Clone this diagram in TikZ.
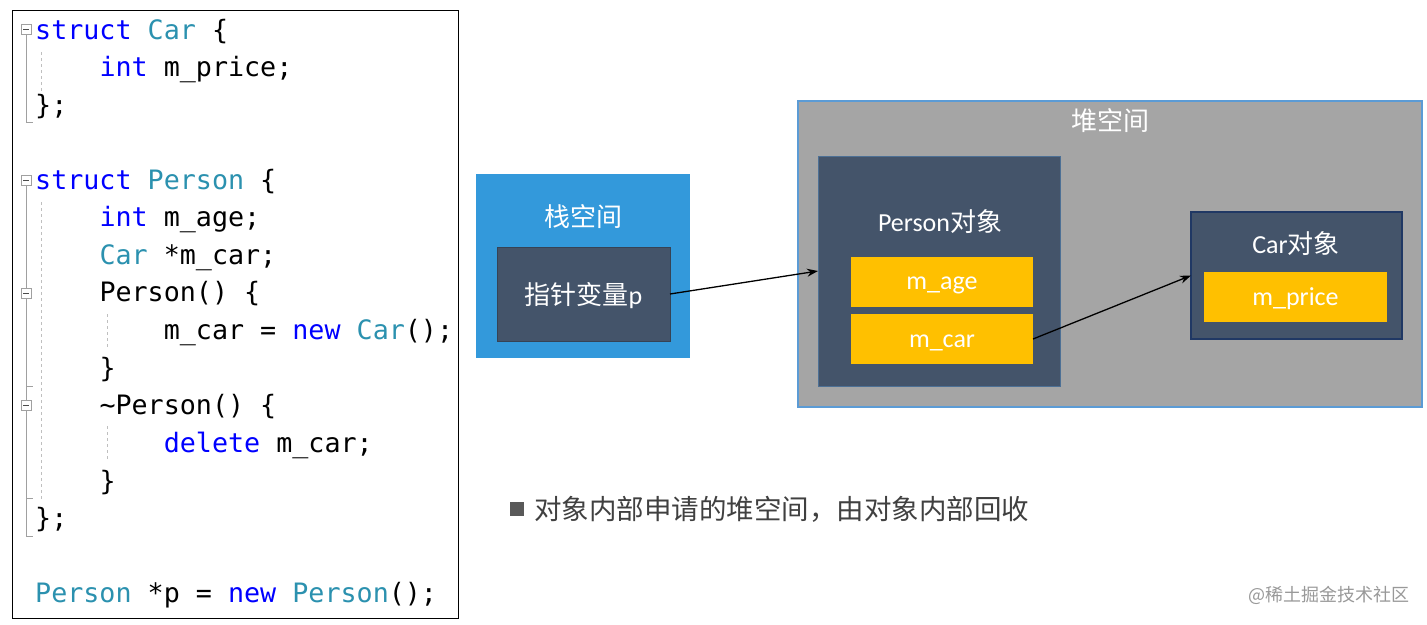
\documentclass[tikz,border=0pt]{standalone}
\usepackage{fontspec}
\usetikzlibrary{arrows.meta}
\setmonofont{DejaVu Sans Mono}
\newfontfamily\cjk{Noto Sans CJK SC}
\newfontfamily\lat{Carlito}
\definecolor{kwblue}{HTML}{0000FF}
\definecolor{tyteal}{HTML}{2B91AF}
\definecolor{stackblue}{RGB}{51,153,219}
\definecolor{darkslate}{HTML}{44546A}
\definecolor{goldy}{HTML}{FFC000}
\definecolor{heapgray}{HTML}{A5A5A5}
\definecolor{heapborder}{HTML}{5B9BD5}
\definecolor{carborder}{HTML}{203864}
\definecolor{foldgray}{HTML}{A0A0A0}
\newcommand\ckw[1]{\textcolor{kwblue}{#1}}
\newcommand\cty[1]{\textcolor{tyteal}{#1}}
\tikzset{
  codeline/.style={anchor=base west, inner sep=0pt, font=\ttfamily\fontsize{26.7}{30}\selectfont},
  box/.style={anchor=north west, inner sep=0pt, outer sep=0pt},
  wlabel/.style={text=white, inner sep=0pt, font=\fontsize{26}{30}\selectfont},
  fold/.style={draw=foldgray, fill=white, line width=0.8pt, minimum width=10pt, minimum height=10pt, inner sep=0pt},
  guide/.style={draw=black!25, dash pattern=on 3pt off 3pt, line width=0.8pt},
  arr/.style={-{Stealth[length=11pt,width=8pt]}, line width=1.3pt, black},
}
\begin{document}
\begin{tikzpicture}[x=1pt,y=-1pt]
\useasboundingbox (0,0) rectangle (1427,624);
\fill[white] (0,0) rectangle (1427,624);
% code panel
\node[box, draw=black, line width=1pt, minimum width=446pt, minimum height=608pt] (codebox) at (12,10) {};
% fold lines
\draw[foldgray, line width=0.8pt] (26,30) -- (26,122) -- (33,122);
\draw[foldgray, line width=0.8pt] (26,180) -- (26,536) -- (33,536);
\draw[foldgray, line width=0.8pt] (26,386) -- (33,386);
\draw[foldgray, line width=0.8pt] (26,498) -- (33,498);
\draw[guide] (41,52) -- (41,100);
\draw[guide] (41,202) -- (41,500);
\draw[guide] (107,314) -- (107,348);
\draw[guide] (107,426) -- (107,462);
\node[fold] (f1) at (26,29) {};
\node[fold] (f2) at (26,180) {};
\node[fold] (f3) at (26,293) {};
\node[fold] (f4) at (26,405) {};
\foreach \f in {f1,f2,f3,f4} \draw[black!70, line width=0.8pt] ([xshift=-3pt]\f.center) -- ([xshift=3pt]\f.center);
% code text
\node[codeline] (l1) at (35,39) {\ckw{struct} \cty{Car} \{};
\node[codeline] (l2) at (99.3,76) {\ckw{int} m\_price;};
\node[codeline] (l3) at (35,114) {\};};
\node[codeline] (l5) at (35,189) {\ckw{struct} \cty{Person} \{};
\node[codeline] (l6) at (99.3,226) {\ckw{int} m\_age;};
\node[codeline] (l7) at (99.3,264) {\cty{Car} *m\_car;};
\node[codeline] (l8) at (99.3,301) {Person() \{};
\node[codeline] (l9) at (163.6,339) {m\_car = \ckw{new} \cty{Car}();};
\node[codeline] (l10) at (99.3,377) {\}};
\node[codeline] (l11) at (99.3,414) {\textasciitilde Person() \{};
\node[codeline] (l12) at (163.6,452) {\ckw{delete} m\_car;};
\node[codeline] (l13) at (99.3,490) {\}};
\node[codeline] (l14) at (35,527) {\};};
\node[codeline] (l16) at (35,602) {\cty{Person} *p = \ckw{new} \cty{Person}();};
% stack
\node[box, fill=stackblue, minimum width=214pt, minimum height=184pt] (stack) at (476,174) {};
\node[wlabel] (stacklbl) at (583,217) {\cjk 栈空间};
\node[box, fill=darkslate, draw=darkslate!80!black, line width=0.8pt, minimum width=173pt, minimum height=94pt] (ptr) at (497,247) {};
\node[wlabel] (ptrlbl) at ([yshift=-2pt]ptr.center) {\cjk 指针变量\lat p};
% heap
\node[box, fill=heapgray, draw=heapborder, line width=1.2pt, minimum width=624pt, minimum height=306pt] (heap) at (798,101) {};
\node[wlabel] (heaplbl) at (1110,121) {\cjk 堆空间};
% person object
\node[box, fill=darkslate, draw=heapborder!40!darkslate, line width=1pt, minimum width=242pt, minimum height=230pt] (person) at (818,156) {};
\node[wlabel] (personlbl) at (940,222) {\lat Person\cjk 对象};
\node[box, fill=goldy, minimum width=182pt, minimum height=50pt] (mage) at (851,257) {};
\node[wlabel] (magelbl) at ([yshift=-3pt]mage.center) {\lat m\_age};
\node[box, fill=goldy, minimum width=182pt, minimum height=50pt] (mcar) at (851,314) {};
\node[wlabel] (mcarlbl) at ([yshift=-4pt]mcar.center) {\lat m\_car};
% car object
\node[box, fill=darkslate, draw=carborder, line width=1.2pt, minimum width=211pt, minimum height=127pt] (car) at (1191,212) {};
\node[wlabel] (carlbl) at (1296,244) {\lat Car\cjk 对象};
\node[box, fill=goldy, minimum width=183pt, minimum height=50pt] (mprice) at (1204,272) {};
\node[wlabel] (mpricelbl) at ([yshift=-2pt]mprice.center) {\lat m\_price};
% arrows
\coordinate (pin) at (818,271);
\draw[arr] (ptr.east) -- (pin);
\draw[arr] (mcar.east) -- (car.west);
% bullet note
\node[box, fill=black!65, minimum width=14pt, minimum height=14pt] (bullet) at (510,502) {};
\node[anchor=west, inner sep=0pt, text=black!75, font=\cjk\fontsize{27.5}{30}\selectfont] (note) at (534,509) {对象内部申请的堆空间，由对象内部回收};
% watermark
\node[anchor=east, inner sep=0pt, text=black!40, font=\cjk\fontsize{18}{20}\selectfont] (wm) at (1410,595) {@稀土掘金技术社区};
\end{tikzpicture}
\end{document}
